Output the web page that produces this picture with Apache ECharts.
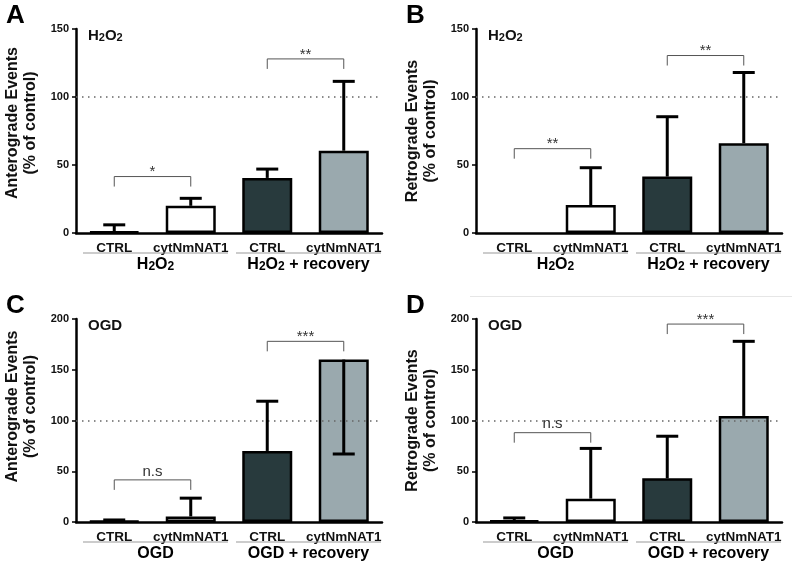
<!DOCTYPE html>
<html>
<head>
<meta charset="utf-8">
<script src="https://cdn.jsdelivr.net/npm/echarts@6/dist/echarts.min.js"></script>
<style>
  html, body { margin: 0; padding: 0; background: #fff; }
  #chart { width: 800px; height: 566px; }
</style>
</head>
<body>
<div id="chart"></div>
<script>
// categories and groups
const categories = ["CTRL", "cytNmNAT1", "CTRL", "cytNmNAT1"];
const groupsH2O2 = [[0, 1, "{n|H}{s|2}{n|O}{s|2}"], [2, 3, "{n|H}{s|2}{n|O}{s|2}{n| + recovery}"]];
const groupsOGD = [[0, 1, "{n|OGD}"], [2, 3, "{n|OGD + recovery}"]];
const barColors = ["#ffffff", "#ffffff", "#283a3d", "#9aa9ae"];

// A: anterograde, H2O2
const antH2O2 = [1, 20, 40.5, 60.5];
const antH2O2Err = [6, 25.5, 47, 111.5];
const antH2O2Sig = [[0, 1, 41.5, "*"], [2, 3, 128, "**"]];
// B: retrograde, H2O2
const retH2O2 = [0, 20.5, 41.5, 66];
const retH2O2Err = [0, 48, 85.5, 118];
const retH2O2Sig = [[0, 1, 62, "**"], [2, 3, 130.5, "**"]];
// C: anterograde, OGD
const antOGD = [1, 5.5, 70, 160];
const antOGDErr = [2, 23.5, 119, 67];
const antOGDSig = [[0, 1, 41.5, "n.s"], [2, 3, 178, "***"]];
// D: retrograde, OGD
const retOGD = [1.5, 23, 43, 104.5];
const retOGDErr = [4, 72.5, 84.5, 178];
const retOGDSig = [[0, 1, 88, "n.s"], [2, 3, 195, "***"]];

const yTicksH2O2 = { max: 150, interval: 50 };
const yTicksOGD = { max: 200, interval: 50 };

const FONT = "Liberation Sans, Arial, sans-serif";

const panels = [
  { letter: "A", cond: "{n|H}{s|2}{n|O}{s|2}", yName: "Anterograde Events\n(% of control)", vals: antH2O2, err: antH2O2Err, sig: antH2O2Sig, groups: groupsH2O2, ticks: yTicksH2O2, left: 76, top: 29, height: 204, namePad: 16 },
  { letter: "B", cond: "{n|H}{s|2}{n|O}{s|2}", yName: "Retrograde Events\n(% of control)", vals: retH2O2, err: retH2O2Err, sig: retH2O2Sig, groups: groupsH2O2, ticks: yTicksH2O2, left: 476, top: 29, height: 204, namePad: 0 },
  { letter: "C", cond: "{n|OGD}", yName: "Anterograde Events\n(% of control)", vals: antOGD, err: antOGDErr, sig: antOGDSig, groups: groupsOGD, ticks: yTicksOGD, left: 76, top: 319, height: 203, namePad: 28 },
  { letter: "D", cond: "{n|OGD}", yName: "Retrograde Events\n(% of control)", vals: retOGD, err: retOGDErr, sig: retOGDSig, groups: groupsOGD, ticks: yTicksOGD, left: 476, top: 319, height: 203, namePad: 0 }
];

const richSub = (size) => ({
  n: { fontSize: size, fontWeight: "bold", fontFamily: FONT, color: "#111", lineHeight: size + 2, verticalAlign: "bottom" },
  s: { fontSize: Math.round(size * 0.72), fontWeight: "bold", fontFamily: FONT, color: "#111", lineHeight: size + 2, verticalAlign: "bottom" }
});

const chart = echarts.init(document.getElementById("chart"), null, { renderer: "canvas" });

const grid = [], xAxis = [], yAxis = [], series = [], title = [];

// error bar: line from mean to the error end, with a cap
const renderErr = (params, api) => {
  const c = api.value(0);
  const p0 = api.coord([c, api.value(1)]);
  const p1 = api.coord([c, api.value(2)]);
  if (Math.abs(p0[1] - p1[1]) < 0.5) return null;
  const style = { stroke: "#000", lineWidth: 3 };
  return {
    type: "group",
    children: [
      { type: "line", shape: { x1: p0[0], y1: p0[1], x2: p1[0], y2: p1[1] }, style },
      { type: "line", shape: { x1: p1[0] - 11, y1: p1[1], x2: p1[0] + 11, y2: p1[1] }, style }
    ]
  };
};

// significance bracket
const makeSig = (rows) => (params, api) => {
  const a = api.coord([api.value(0), api.value(2)]);
  const b = api.coord([api.value(1), api.value(2)]);
  const txt = rows[params.dataIndex][3];
  const isNs = txt === "n.s";
  return {
    type: "group",
    children: [
      { type: "polyline", shape: { points: [[a[0], a[1] + 10], [a[0], a[1]], [b[0], b[1]], [b[0], b[1] + 10]] }, style: { stroke: "#555", lineWidth: 1, fill: null } },
      { type: "text", x: (a[0] + b[0]) / 2, y: a[1] + (isNs ? -1 : 3), style: { text: txt, fontSize: 15, fontFamily: FONT, fill: "#333", align: "center", verticalAlign: "bottom" } }
    ]
  };
};

// group underline and label under the category labels
const makeGroup = (rows) => (params, api) => {
  const band = api.size([1, 0])[0];
  const s = api.coord([api.value(0), 0]);
  const e = api.coord([api.value(1), 0]);
  const x1 = s[0] - band / 2 + 7;
  const x2 = e[0] + band / 2 - 1;
  const y = s[1] + 20;
  const txt = rows[params.dataIndex][2];
  return {
    type: "group",
    children: [
      { type: "line", shape: { x1, y1: y, x2, y2: y }, style: { stroke: "#999", lineWidth: 1 } },
      { type: "text", x: (x1 + x2) / 2, y: y + 11, style: { text: txt, rich: richSub(16), align: "center", verticalAlign: "middle" } }
    ]
  };
};

panels.forEach((p, i) => {
  grid.push({ left: p.left, top: p.top, width: 306, height: p.height });
  xAxis.push({
    type: "category", gridIndex: i, data: categories,
    axisLine: { lineStyle: { color: "#000", width: 2.5 } },
    axisTick: { show: false },
    axisLabel: { color: "#111", fontSize: 13.5, fontWeight: "bold", fontFamily: FONT, margin: 8, interval: 0 }
  });
  yAxis.push({
    type: "value", gridIndex: i, min: 0, max: p.ticks.max, interval: p.ticks.interval,
    name: p.yName, nameLocation: "middle", nameGap: 36,
    nameTextStyle: { color: "#111", fontSize: 16, fontWeight: "bold", fontFamily: FONT, lineHeight: 18, padding: [0, 0, 0, p.namePad] },
    axisLine: { show: true, lineStyle: { color: "#000", width: 2.5 } },
    axisTick: { show: true, length: 4, lineStyle: { color: "#000", width: 1.5 } },
    axisLabel: { color: "#111", fontSize: 11, fontWeight: "bold", fontFamily: FONT, margin: 7 },
    splitLine: { show: false }
  });
  series.push({
    type: "bar", xAxisIndex: i, yAxisIndex: i, barWidth: 50,
    data: p.vals.map((v, k) => ({ value: v, itemStyle: { color: barColors[k], borderWidth: v > 0 ? 2.5 : 0 } })),
    itemStyle: { borderColor: "#000" },
    silent: true,
    markLine: {
      silent: true, symbol: "none", label: { show: false },
      lineStyle: { color: "#666", width: 1.5, type: [1.5, 4.5] },
      data: [{ yAxis: 100 }]
    }
  });
  series.push({
    type: "custom", xAxisIndex: i, yAxisIndex: i, z: 5, silent: true,
    data: p.vals.map((v, k) => [k, v, p.err[k]]),
    encode: { x: 0, y: [1, 2] },
    renderItem: renderErr
  });
  series.push({
    type: "custom", xAxisIndex: i, yAxisIndex: i, z: 5, silent: true,
    data: p.sig.map(r => [r[0], r[1], r[2]]), encode: { x: [0, 1], y: 2 },
    renderItem: makeSig(p.sig)
  });
  series.push({
    type: "custom", xAxisIndex: i, yAxisIndex: i, z: 5, silent: true,
    data: p.groups.map(r => [r[0], r[1], 0]), encode: { x: [0, 1], y: 2 },
    renderItem: makeGroup(p.groups)
  });
  title.push({
    text: p.letter, left: p.left - 70, top: p.top - 26, padding: 0,
    textStyle: { fontSize: 26, fontWeight: "bold", fontFamily: FONT, color: "#000" }
  });
  title.push({
    text: p.cond, left: p.left + 12, top: p.top - 3, padding: 0,
    textStyle: { rich: richSub(15) }
  });
});

chart.setOption({
  animation: false,
  backgroundColor: "#fff",
  title, grid, xAxis, yAxis, series,
  graphic: [
    { type: "line", shape: { x1: 470, y1: 296.5, x2: 792, y2: 296.5 }, style: { stroke: "#e6e6e6", lineWidth: 1 } }
  ]
});
</script>
</body>
</html>
